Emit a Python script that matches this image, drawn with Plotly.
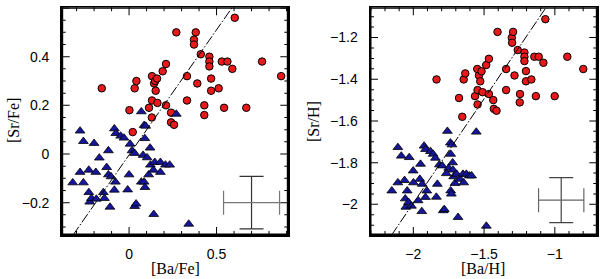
import numpy as np
import plotly.graph_objects as go

# ---- Left panel: [Ba/Fe] vs [Sr/Fe] ----
red_bafe = [-0.156, 0.002, 0.021, 0.032, 0.042, 0.114, 0.13, 0.131, 0.131, 0.143, 0.149, 0.152, 0.16, 0.162,
            0.192, 0.211, 0.211, 0.24, 0.24, 0.257, 0.27, 0.331, 0.331, 0.371, 0.371, 0.381, 0.39, 0.41,
            0.43, 0.43, 0.459, 0.459, 0.459, 0.469, 0.469, 0.512, 0.53, 0.543, 0.562, 0.59, 0.604, 0.67,
            0.76, 0.869]
red_srfe = [0.27, 0.18, 0.09, 0.27, 0.30, 0.19, 0.15, 0.22, 0.32, 0.29, 0.30, 0.26, 0.31, 0.21,
            0.34, 0.37, 0.20, 0.17, 0.13, 0.12, 0.50, 0.32, 0.22, 0.47, 0.45, 0.50, 0.29, 0.41,
            0.20, 0.16, 0.40, 0.38, 0.36, 0.31, 0.26, 0.27, 0.38, 0.19, 0.38, 0.35, 0.56, 0.19,
            0.38, 0.32]
blue_bafe = [-0.322, -0.28, -0.28, -0.261, -0.261, -0.23, -0.23, -0.225, -0.215, -0.2, -0.19, -0.187,
             -0.17, -0.147, -0.141, -0.128, -0.118, -0.118, -0.109, -0.084, -0.084, -0.078, -0.076,
             -0.048, -0.029, -0.008, 0.0, 0.006, 0.017, 0.032, 0.032, 0.04, 0.07, 0.07, 0.08, 0.086,
             0.086, 0.09, 0.091, 0.095, 0.103, 0.112, 0.12, 0.122, 0.139, 0.141, 0.147, 0.179, 0.179,
             0.208, 0.232, 0.27, 0.341, -0.103]
blue_srfe = [-0.118, 0.095, -0.075, 0.052, -0.118, -0.066, -0.158, -0.197, -0.182, 0.044, -0.075, -0.185,
             -0.016, -0.158, -0.182, -0.055, 0.014, -0.085, -0.218, 0.104, -0.148, -0.115, 0.085,
             0.074, 0.066, -0.147, -0.085, 0.041, 0.014, 0.003, -0.215, -0.205, 0.174, -0.115, -0.005, -0.115,
             0.118, 0.064, -0.137, 0.115, -0.015, -0.085, 0.025, -0.045, -0.066, -0.248, -0.034, -0.075, -0.034,
             -0.045, -0.045, 0.164, -0.288, -0.093]
fit1_x = [-0.32, 0.587]
fit1_y = [-0.333, 0.60]
err1_x, err1_y = [0.70], [-0.20]
err1_dx, err1_dy = [0.16], [0.108]

# ---- Right panel: [Ba/H] vs [Sr/H] ----
red_bah = [-1.836, -1.677, -1.654, -1.644, -1.633, -1.564, -1.548, -1.546, -1.546, -1.536, -1.527, -1.518,
           -1.511, -1.485, -1.466, -1.466, -1.435, -1.431, -1.412, -1.405, -1.344, -1.344, -1.304, -1.302,
           -1.295, -1.285, -1.262, -1.248, -1.246, -1.215, -1.215, -1.215, -1.204, -1.204, -1.166, -1.145,
           -1.134, -1.114, -1.081, -1.067, -1.001, -0.912, -0.799]
red_srh = [-1.401, -1.490, -1.580, -1.401, -1.372, -1.481, -1.351, -1.452, -1.521, -1.382, -1.410, -1.362,
           -1.462, -1.332, -1.302, -1.471, -1.500, -1.542, -1.551, -1.173, -1.351, -1.452, -1.201, -1.225,
           -1.173, -1.382, -1.260, -1.511, -1.471, -1.272, -1.292, -1.313, -1.361, -1.410, -1.401, -1.292,
           -1.481, -1.292, -1.321, -1.112, -1.481, -1.292, -1.351]
blue_bah = [-2.152, -2.109, -2.109, -2.085, -2.062, -2.057, -2.053, -2.043, -2.034, -2.029, -2.013, -2.001,
            -1.999, -1.966, -1.954, -1.949, -1.940, -1.937, -1.924, -1.914, -1.914, -1.905, -1.879, -1.860,
            -1.844, -1.837, -1.830, -1.816, -1.795, -1.788, -1.781, -1.759, -1.750, -1.738, -1.736, -1.736,
            -1.731, -1.727, -1.722, -1.720, -1.715, -1.706, -1.694, -1.684, -1.670, -1.649, -1.644, -1.625,
            -1.604, -1.588, -1.555, -1.484, -1.767]
blue_srh = [-1.935, -1.727, -1.896, -1.768, -1.885, -1.973, -2.013, -1.935, -1.990, -1.775, -2.008, -1.839,
            -1.896, -1.982, -1.879, -1.807, -2.034, -1.903, -1.720, -1.736, -1.966, -1.935, -1.746, -1.759,
            -1.778, -1.965, -1.903, -1.810, -1.815, -2.030, -2.024, -1.649, -1.826, -1.705, -1.759, -1.935,
            -1.950, -1.714, -1.800, -1.835, -1.867, -1.899, -1.855, -2.062, -1.879, -1.855, -1.896, -1.855,
            -1.863, -1.863, -1.653, -2.104, -1.852]
fit2_x = [-2.153, -1.061]
fit2_y = [-2.147, -1.055]
err2_x, err2_y = [-0.955], [-1.98]
err2_dx, err2_dy = [0.16], [0.108]

# axis ranges
x1_range, y1_range = [-0.385, 0.91], [-0.333, 0.603]
x2_range, y2_range = [-2.306, -0.70], [-2.147, -1.055]

RED = "#e8191a"
BLUE = "#16169a"

W, H = 600, 279
yd = [1 - 235 / 279, 1 - 7.3 / 279]
xd1 = [61.7 / 600, 288.3 / 600]
xd2 = [370 / 600, 597.3 / 600]

fig = go.Figure()


def add_panel(xr, yr, xb, yb, fx, fy, ex, ey, edx, edy, xa, ya, hcol, vcol):
    fig.add_trace(go.Scatter(x=xr, y=yr, mode="markers", xaxis=xa, yaxis=ya, cliponaxis=False,
                             marker=dict(symbol="circle", size=7.5, color=RED,
                                         line=dict(color="black", width=1))))
    fig.add_trace(go.Scatter(x=xb, y=yb, mode="markers", xaxis=xa, yaxis=ya,
                             marker=dict(symbol="triangle-up", size=8.5, color=BLUE,
                                         line=dict(color="black", width=0.8))))
    fig.add_trace(go.Scatter(x=fx, y=fy, mode="lines", xaxis=xa, yaxis=ya,
                             line=dict(color="black", width=1, dash="10px,2px,1.5px,2px")))
    fig.add_trace(go.Scatter(x=ex, y=ey, mode="markers", xaxis=xa, yaxis=ya,
                             marker=dict(size=0.1, color="rgba(0,0,0,0)"),
                             error_x=dict(type="data", array=edx, color=hcol, thickness=1.2, width=12),
                             error_y=dict(type="data", array=edy, color=vcol, thickness=1.2, width=12)))


def tick_values(rng, step):
    lo = np.ceil(rng[0] / step - 1e-9) * step
    vals = np.arange(lo, rng[1] + 1e-9, step)
    return [round(float(v), 6) for v in vals if rng[0] + 1e-6 < v < rng[1] - 1e-6]


def bar(xref, yref, x0, x1, y0, y1):
    # filled thin rectangle (no stroke)
    fig.add_shape(type="rect", xref=xref, yref=yref, x0=x0, x1=x1, y0=y0, y1=y1,
                  line=dict(width=0), fillcolor="#000000", layer="above")


def add_frame(xa, ya, xr, yr, xmaj, xmin, ymaj, ymin, xdom):
    wpx = (xdom[1] - xdom[0]) * W
    hpx = (yd[1] - yd[0]) * H
    xdr, ydr = xa + " domain", ya + " domain"
    t = 1.5  # frame thickness, px
    fx, fy = t / wpx, t / hpx
    # frame: four filled bars just inside the plot area
    bar(xdr, ydr, 0, 1, 0, fy)
    bar(xdr, ydr, 0, 1, 1 - fy, 1)
    bar(xdr, ydr, 0, fx, 0, 1)
    bar(xdr, ydr, 1 - fx, 1, 0, 1)
    # ticks on all four sides, pointing inwards
    hx = 0.5 * (xr[1] - xr[0]) / wpx  # half a pixel in x data units
    hy = 0.5 * (yr[1] - yr[0]) / hpx
    for v in tick_values(xr, xmin):
        L = 8 if abs(v / xmaj - round(v / xmaj)) < 1e-6 else 4
        f = L / hpx
        bar(xa, ydr, v - hx, v + hx, 0, f)
        bar(xa, ydr, v - hx, v + hx, 1 - f, 1)
    for v in tick_values(yr, ymin):
        L = 8 if abs(v / ymaj - round(v / ymaj)) < 1e-6 else 4
        f = L / wpx
        bar(xdr, ya, 0, f, v - hy, v + hy)
        bar(xdr, ya, 1 - f, 1, v - hy, v + hy)


add_panel(red_bafe, red_srfe, blue_bafe, blue_srfe, fit1_x, fit1_y,
          err1_x, err1_y, err1_dx, err1_dy, "x", "y", "#777777", "#333333")
add_panel(red_bah, red_srh, blue_bah, blue_srh, fit2_x, fit2_y,
          err2_x, err2_y, err2_dx, err2_dy, "x2", "y2", "#666666", "#444444")
add_frame("x", "y", x1_range, y1_range, 0.5, 0.1, 0.2, 0.05, xd1)
add_frame("x2", "y2", x2_range, y2_range, 0.5, 0.1, 0.2, 0.05, xd2)

tickfont = dict(family="Liberation Sans, Arial, sans-serif", size=14, color="black")
titlefont = dict(family="Liberation Serif, Times New Roman, serif", size=16, color="black")

common = dict(showgrid=False, zeroline=False, showline=True, linecolor="black", linewidth=1.5,
              mirror=True, ticks="", tickfont=tickfont, automargin=False, fixedrange=True)

fig.update_layout(
    template="none",
    width=W, height=H, margin=dict(l=0, r=0, t=0, b=0, autoexpand=False),
    paper_bgcolor="white", plot_bgcolor="white", showlegend=False,
    xaxis=dict(domain=xd1, range=x1_range, dtick=0.5, tick0=0, anchor="y",
               ticklabelstandoff=6, **common),
    yaxis=dict(domain=yd, range=y1_range, dtick=0.2, tick0=0, anchor="x",
               ticklabelstandoff=8, **common),
    xaxis2=dict(domain=xd2, range=x2_range, dtick=0.5, tick0=0, anchor="y2",
                ticklabelstandoff=6, **common),
    yaxis2=dict(domain=yd, range=y2_range, dtick=0.2, tick0=0, anchor="x2",
                ticklabelstandoff=8, **common),
)


# axis titles
def title(text, x, y, angle=0):
    fig.add_annotation(text=text, xref="paper", yref="paper", x=x / W, y=1 - y / H,
                       showarrow=False, textangle=angle, font=titlefont,
                       xanchor="center", yanchor="middle")


title("[Ba/Fe]", 175, 268)
title("[Ba/H]", 483, 268)
title("[Sr/Fe]", 13, 121, -90)
title("[Sr/H]", 313, 121, -90)

fig.write_html("out.html", config={"displayModeBar": False, "staticPlot": True},
               post_script="document.body.style.margin='0';document.body.style.padding='0';"
                           "document.body.style.overflow='hidden';")
